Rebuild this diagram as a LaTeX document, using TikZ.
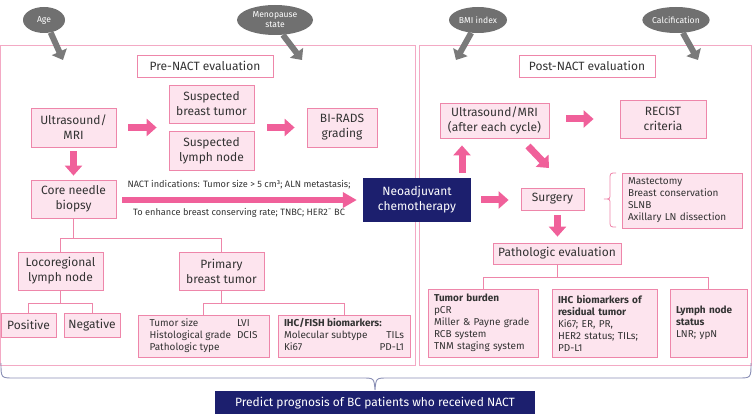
\documentclass[tikz,border=0pt]{standalone}
\usepackage{fontspec}
\setmainfont{Fira Sans}
\usetikzlibrary{arrows.meta,shapes.geometric}
\definecolor{pinkfill}{HTML}{FDE4EE}
\definecolor{pinkline}{HTML}{EE86AA}
\definecolor{pinkarrow}{HTML}{F0609A}
\definecolor{panelline}{HTML}{F3A9C4}
\definecolor{navy}{HTML}{1C1F6E}
\definecolor{grayell}{HTML}{707070}
\definecolor{grayarrow}{HTML}{7A7A7A}
\definecolor{txt}{HTML}{333333}
\definecolor{bracec}{HTML}{8A8FB5}
\begin{document}
\begin{tikzpicture}[x=1pt,y=-1pt,
  ell/.style={ellipse,fill=grayell,text=white,inner sep=0pt,align=center,font=\fontsize{8.6}{10}\selectfont},
  garrow/.style={grayarrow,line width=6pt,-{Triangle[length=9pt,width=16pt]}},
  parrow/.style={pinkarrow,line width=7pt,-{Triangle[length=10pt,width=17pt]}},
  larrow/.style={pinkarrow,line width=5.5pt,-{Triangle[length=14pt,width=15pt]}},
  pbox/.style={draw=pinkline,fill=pinkfill,text=txt,align=center,line width=0.8pt,inner sep=1pt,font=\fontsize{12}{15}\selectfont},
  hbox/.style={draw=pinkline,fill=white,text=txt,align=center,line width=0.8pt,inner sep=1pt,font=\fontsize{12}{15}\selectfont},
  nbox/.style={fill=navy,text=white,align=center,inner sep=1pt,font=\fontsize{12}{15}\selectfont},
  sbox/.style={draw=pinkline,fill=pinkfill,text=txt,align=left,line width=0.8pt,inner xsep=6pt,inner ysep=2pt,font=\fontsize{10}{12}\selectfont},
  small/.style={text=txt,font=\fontsize{9.2}{11}\selectfont,inner sep=0pt},
  conn/.style={draw=pinkline,line width=0.8pt},
  panel/.style={draw=panelline,line width=0.8pt}
]
\useasboundingbox (0,0) rectangle (752,414);
% panels
\draw[panel] (0.5,45) rectangle (415,365);
\draw[panel] (419,45) rectangle (751.5,365);
% ellipses
\node[ell,minimum width=42,minimum height=26] (age) at (44,20) {Age};
\node[ell,minimum width=76,minimum height=30] (meno) at (275,20) {Menopause\\state};
\node[ell,minimum width=58,minimum height=26] (bmi) at (478,20) {BMI index};
\node[ell,minimum width=64,minimum height=26] (calc) at (676,20) {Calcification};
\coordinate (agetip) at (63,60);
\coordinate (menotip) at (302,60);
\coordinate (bmitip) at (456,60);
\coordinate (calctip) at (698,60);
\draw[garrow] (age.-62) -- (agetip);
\draw[garrow] (meno.-62) -- (menotip);
\draw[garrow] (bmi.-118) -- (bmitip);
\draw[garrow] (calc.-62) -- (calctip);
% headers
\node[hbox,minimum width=136,minimum height=22] (pre) at (205,66) {Pre-NACT evaluation};
\node[hbox,minimum width=136,minimum height=22] (post) at (587,66) {Post-NACT evaluation};
% left boxes
\node[pbox,minimum width=85,minimum height=38] (sustum) at (211.5,104) {Suspected\\breast tumor};
\node[pbox,minimum width=85,minimum height=39] (suslym) at (211.5,150.5) {Suspected\\lymph node};
\node[pbox,minimum width=85,minimum height=39] (us) at (73.5,127.5) {Ultrasound/\\MRI};
\node[pbox,minimum width=70,minimum height=39] (birads) at (342,127.5) {BI-RADS\\grading};
\node[pbox,minimum width=85,minimum height=38] (core) at (73.5,199) {Core needle\\biopsy};
\node[nbox,minimum width=108,minimum height=44] (neo) at (417,200) {Neoadjuvant\\chemotherapy};
\node[pbox,minimum width=85,minimum height=38] (loco) at (60.5,271) {Locoregional\\lymph node};
\node[pbox,minimum width=85,minimum height=38] (prim) at (221.5,271) {Primary\\breast tumor};
\node[pbox,minimum width=55,minimum height=24] (pos) at (28.5,325) {Positive};
\node[pbox,minimum width=56,minimum height=24] (neg) at (92,325) {Negative};
\node[sbox,minimum width=131,minimum height=42] (tsz) at (203.5,336) {\begin{tabular}{@{}l@{\hspace{6pt}}l@{}}Tumor size & LVI\\ Histological grade & DCIS\\ Pathologic type & \end{tabular}};
\node[sbox,minimum width=132,minimum height=42] (ihcf) at (344,336) {\begin{tabular*}{120pt}{@{}l@{\extracolsep{\fill}}r@{}}\multicolumn{2}{@{}l@{}}{\textbf{IHC/FISH biomarkers:}}\\ Molecular subtype & TILs\\ Ki67 & PD-L1\end{tabular*}};
% small texts
\node[small] (ind1) at (239,185) {NACT indications: Tumor size > 5 cm³; ALN metastasis;};
\node[small] (ind2) at (239,213) {To enhance breast conserving rate; TNBC; HER2\textsuperscript{−} BC};
% right boxes
\node[pbox,minimum width=109,minimum height=35] (usa) at (494.5,120.5) {Ultrasound/MRI\\(after each cycle)};
\node[pbox,minimum width=86,minimum height=38] (recist) at (663,119) {RECIST\\criteria};
\node[pbox,minimum width=63,minimum height=22] (surg) at (552.5,199) {Surgery};
\node[sbox,minimum width=120,minimum height=55,text width=108pt] (sopt) at (682,200.5) {Mastectomy\\Breast conservation\\SLNB\\Axillary LN dissection};
\node[pbox,minimum width=128,minimum height=21] (patho) at (557,253.5) {Pathologic evaluation};
\node[sbox,minimum width=110,minimum height=68,text width=98pt] (tb) at (483,323) {\textbf{Tumor burden}\\pCR\\Miller \& Payne grade\\RCB system\\TNM staging system};
\node[sbox,minimum width=105,minimum height=68,text width=93pt] (ihcr) at (604.5,323) {\textbf{IHC biomarkers of}\\\textbf{residual tumor}\\Ki67; ER, PR,\\HER2 status; TILs;\\PD-L1};
\node[sbox,minimum width=77,minimum height=68,text width=65pt] (lns) at (708.5,323) {\textbf{Lymph node}\\\textbf{status}\\LNR; ypN};
% bottom
\node[nbox,minimum width=320,minimum height=24] (pred) at (375,403) {Predict prognosis of BC patients who received NACT};
% pink arrows
\draw[parrow,shorten <=12pt,shorten >=12pt] (us.east) -- (us.east -| sustum.west);
\draw[parrow,shorten <=13pt,shorten >=12pt] (sustum.east |- us.east) -- (birads.west);
\draw[parrow,shorten <=4pt,shorten >=4pt] (us.south) -- (core.north);
\draw[larrow,shorten <=6pt,shorten >=6pt] (core.east |- neo.west) -- (neo.west);
\draw[parrow,shorten <=5pt,shorten >=7pt] ([xshift=45pt]neo.north) -- ([xshift=45pt]neo.north |- usa.south);
\draw[parrow,shorten <=17pt,shorten >=26pt] (usa.east |- recist.west) -- (recist.west);
\coordinate (dgs) at (528,146);
\coordinate (dge) at (549,168);
\draw[parrow] (dgs) -- (dge);
\draw[parrow,shorten <=10pt,shorten >=12pt] (neo.east) -- (neo.east -| surg.west);
\draw[parrow,shorten <=5pt,shorten >=6pt] ([xshift=5pt]surg.south) -- ([xshift=5pt]surg.south |- patho.north);
% tree connectors
\draw[conn] (core.south) -- (core.south |- 0,238);
\draw[conn] (loco.north) -- (loco.north |- 0,238) -| (prim.north);
\draw[conn] (loco.south) -- (loco.south |- 0,303);
\draw[conn] (pos.north) -- (pos.north |- 0,303) -| (neg.north);
\draw[conn] (prim.south) -- (prim.south |- 0,303);
\draw[conn] (tsz.north) -- (tsz.north |- 0,303) -| (ihcf.north);
\draw[conn] (patho.south) -- (patho.south |- 0,277);
\draw[conn] (tb.north) -- (tb.north |- 0,277) -| (lns.north);
% surgery brace
\draw[pinkline,line width=0.8pt] (616,173) .. controls (610,173) .. (610,180) -- (610,194) .. controls (610,199) .. (604,199) .. controls (610,199) .. (610,204) -- (610,220) .. controls (610,227) .. (616,227);
% bottom brace
\draw[bracec,line width=0.9pt] (1,363) .. controls (1,378) .. (14,378) -- (362,378) .. controls (374,378) .. (375,390) .. controls (376,378) .. (388,378) -- (738,378) .. controls (751,378) .. (751,363);
\end{tikzpicture}
\end{document}
